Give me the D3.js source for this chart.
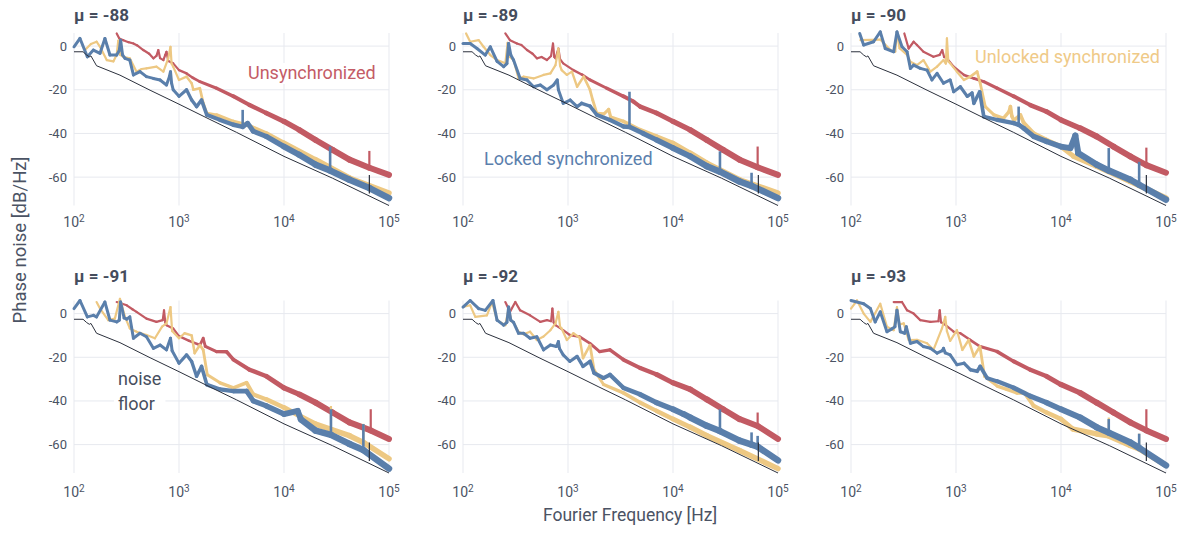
<!DOCTYPE html>
<html>
<head>
<meta charset="utf-8">
<script src="https://cdn.jsdelivr.net/npm/d3@7"></script>
<style>
  body { margin: 0; background: #fff; }
  svg text { font-family: Roboto, "Noto Sans", sans-serif; }
</style>
</head>
<body>
<svg id="chart" width="1187" height="537"></svg>
<script>
// values: [frequency Hz, phase noise dB/Hz]
// spikes: [frequency Hz, base dB, peak dB]

const muValues = [-88, -89, -90, -91, -92, -93];
const xTicks = [1e2, 1e3, 1e4, 1e5];
const yTicks = [0, -20, -40, -60];

const noiseFloor = [[100,-2.6],[122,-2.6],[132,-4.1],[140,-4.9],[145,-4.5],[164,-9],[274,-13.3],[530,-20.2],[1000,-26.6],[1970,-33.6],[3530,-39.5],[10000,-50.5],[29000,-60.5],[100000,-73]];
const floorSpikes = [[65000,-67.5,-59]];

// mu = -88
const unsync88 = [[255,5.8],[270,3.5],[295,2.7],[330,1.8],[368,1.2],[400,0.3],[457,-1.8],[520,-3.5],[570,-5.6],[610,-4.5],[635,-1.8],[660,-5.5],[710,-6.4],[740,-4],[760,-2.6],[790,-6.8],[880,-7.9],[1000,-11],[1180,-12.5],[1350,-14.5],[1580,-16.3],[2280,-19.3],[3300,-23],[4700,-27],[6800,-30.7],[10000,-34.5],[14000,-38.4],[20000,-43],[29000,-47.5],[42000,-52],[65000,-55.7],[100000,-59]];
const unlocked88 = [[127,-1.8],[145,1],[164,2],[177,-0.3],[205,-6.4],[237,-7],[255,-4],[264,2.5],[275,-4],[295,-4.9],[340,-5.6],[394,-11.7],[440,-10.5],[490,-10.2],[610,-9.4],[710,-11.7],[790,-5.6],[830,-0.3],[850,-8],[880,-9.4],[1000,-15.5],[1180,-14],[1320,-17],[1370,-20],[1580,-19.3],[1700,-26],[1840,-30.7],[2280,-31.5],[3300,-34.5],[4400,-36],[6800,-40],[10000,-44.4],[20000,-52],[42000,-60.4],[100000,-67.3]];
const locked88 = [[100,-0.3],[114,3.5],[134,-4.9],[153,-1.8],[177,-3.3],[197,3.5],[220,-4.1],[255,-4.1],[270,-2],[278,2.7],[290,-4],[306,-5.6],[340,-6.4],[368,-13.2],[425,-11.7],[490,-14],[570,-14.8],[660,-15.5],[760,-17.8],[810,-14],[830,-11.7],[850,-17],[880,-20],[1000,-23],[1180,-20],[1320,-24.7],[1470,-27.7],[1640,-24.7],[1840,-31.5],[2460,-33.8],[3300,-36],[4040,-37],[4500,-35.3],[5100,-39],[6800,-41.4],[10000,-46],[14000,-49.8],[20000,-54.3],[27500,-57],[42000,-61.2],[65000,-65],[100000,-69.6]];
const unsyncSpikes88 = [[65000,-55.7,-48]];
const unlockedSpikes88 = [];
const lockedSpikes88 = [[4040,-37,-29.2],[27500,-57,-46]];

// mu = -89
const unsync89 = [[253,5.8],[280,2.7],[326,1.2],[360,0.5],[407,-1.8],[460,-3.5],[505,-5.6],[560,-5],[630,-6.4],[690,-4.5],[720,1.2],[740,-5],[760,-5.6],[790,-3],[810,-1.1],[840,-6],[900,-7.9],[1125,-11],[1350,-13],[1620,-15.5],[2340,-19.3],[3370,-23],[4200,-25.4],[4870,-27.7],[7000,-30.7],[10000,-34.5],[14600,-38.4],[21000,-43],[30000,-47.5],[43000,-52],[64000,-55.5],[100000,-59]];
const unlocked89 = [[107,5.8],[117,2],[141,2.7],[157,-0.3],[182,-4.1],[211,-6.4],[253,-7.9],[266,1.5],[280,-5],[303,-6.4],[338,-14.8],[377,-14],[470,-14.8],[585,-13.2],[680,-12.5],[760,-8.7],[810,-1.1],[840,-9],[870,-11],[975,-13.2],[1090,-11.7],[1220,-18.6],[1410,-14],[1620,-20],[1720,-24.7],[1880,-30.7],[2200,-31],[2440,-29],[2550,-32.5],[3370,-34.5],[4870,-38.4],[7000,-41.4],[10000,-44.4],[14600,-49],[21000,-53.6],[43000,-61.2],[100000,-67.3]];
const locked89 = [[100,1.2],[117,1.2],[136,-1.1],[163,-4.1],[182,-0.3],[211,-7],[244,-9.4],[262,-8],[272,1.2],[285,-4],[303,-6.4],[350,-14.8],[407,-15.5],[470,-18.6],[545,-17.8],[630,-20],[730,-17.8],[790,-15.5],[810,-20],[900,-26.2],[1050,-24.7],[1220,-27.7],[1350,-26.2],[1620,-27.5],[1880,-31.5],[2500,-33.8],[3370,-36.8],[3850,-37],[5200,-40],[7000,-43],[10000,-46.7],[14600,-50.5],[21000,-55],[28000,-57.5],[43000,-62],[56000,-64],[100000,-69.6]];
const unsyncSpikes89 = [[64000,-55.5,-46]];
const unlockedSpikes89 = [];
const lockedSpikes89 = [[3850,-37,-20.9],[28000,-57.5,-48.2],[56000,-64,-58]];

// mu = -90
const unsync90 = [[322,5.8],[354,-1.1],[395,2],[425,0.5],[490,-2.6],[610,-4.9],[700,-4],[740,-1.8],[770,-5],[820,-5.6],[950,-9.4],[1190,-13.2],[1480,-14.8],[1840,-16.3],[2470,-19.3],[3550,-23],[5100,-27],[7300,-30],[10000,-33.8],[15200,-37.6],[21900,-41.4],[31600,-46],[45700,-50.5],[65000,-54.5],[100000,-58]];
const unlocked90 = [[123,2.7],[190,3],[240,-2],[264,-2.5],[274,6.5],[290,-1],[342,-4],[368,-7.2],[425,-8.7],[490,-6.4],[570,-11.7],[660,-9.4],[760,-6.4],[800,-8],[820,3.5],[845,-7],[880,-7.9],[1020,-11.7],[1190,-15.5],[1370,-14],[1590,-11.7],[1700,-17],[1900,-27.7],[2300,-31.5],[2840,-33],[3200,-30],[3300,-27.7],[3400,-32],[3550,-34],[4100,-31.5],[4400,-35],[5500,-40],[7300,-43],[10000,-46],[13200,-50.5],[21900,-55],[45700,-62],[100000,-69.6]];
const locked90 = [[121,5.8],[132,0.5],[164,2],[190,6.5],[212,-1.1],[255,-2.6],[274,6.5],[306,-0.3],[342,-2.6],[368,-10.2],[395,-8.7],[457,-10.2],[530,-11],[590,-15.5],[660,-12.5],[760,-17],[880,-15.5],[950,-20.9],[1100,-18.6],[1280,-23],[1420,-21.5],[1480,-26.2],[1680,-20.9],[1840,-32.3],[2470,-33.8],[3550,-35.3],[3950,-36],[4400,-37.6],[5500,-41.4],[7300,-43.7],[10000,-46],[12300,-46.7],[13700,-41],[14600,-49],[21900,-54.3],[28500,-57],[45700,-61.2],[55500,-63.5],[100000,-70.3]];
const unsyncSpikes90 = [[65000,-54.5,-46.5]];
const unlockedSpikes90 = [];
const lockedSpikes90 = [[3950,-36,-27.7],[28500,-57,-46.7],[55500,-63.5,-53]];

// mu = -91
const unsync91 = [[255,5.3],[318,3.8],[360,2],[394,0.8],[490,-2.3],[610,-3.8],[700,-3],[720,1.5],[740,-4],[760,-5.3],[880,-6.8],[1000,-10.3],[1250,-12.5],[1580,-14.4],[1700,-11.3],[1780,-15],[2280,-17.4],[2840,-17.5],[3300,-21.1],[4700,-25.7],[6800,-28.7],[10000,-34],[14000,-37],[20000,-40.8],[29000,-45.3],[42000,-49.8],[67000,-53.5],[100000,-57.4]];
const unlocked91 = [[164,5.3],[177,2.3],[212,-3],[245,-2.3],[274,6.8],[306,-1.5],[340,-6.8],[394,-8.3],[490,-9.8],[590,-11.3],[690,-6],[760,-4.5],[830,3],[860,-8],[1000,-11.3],[1130,-9],[1320,-10],[1410,-18.1],[1580,-14.4],[1700,-16.6],[1860,-28],[2460,-31.7],[3300,-34],[4400,-31.7],[5100,-37],[6800,-39.3],[10000,-43],[14000,-46.8],[20000,-50.6],[28000,-53],[42000,-55.9],[57000,-59],[100000,-66.5]];
const locked91 = [[100,2.3],[114,6],[134,-1.5],[153,-0.8],[164,-1.5],[197,5.3],[220,-3],[255,-3.8],[270,-3],[278,5.3],[300,-2],[318,-2.5],[340,-1.5],[368,-11.3],[425,-9],[490,-10.6],[570,-15.9],[660,-14.4],[760,-16.6],[830,-11.3],[860,-17],[1000,-22.7],[1180,-18.9],[1320,-21.9],[1470,-28.7],[1640,-24.2],[1840,-32.5],[2460,-34.7],[3300,-35.5],[4400,-35.5],[5100,-40],[6800,-42.3],[10000,-46],[13500,-44.6],[14500,-48.5],[20000,-53.6],[28000,-55.5],[42000,-59.7],[57000,-62.5],[100000,-71]];
const unsyncSpikes91 = [[67000,-53.5,-43.8]];
const unlockedSpikes91 = [[28000,-53,-42.3],[57000,-59,-50.5]];
const lockedSpikes91 = [[28000,-55.5,-43.8],[57000,-62.5,-50.6]];

// mu = -92
const unsync92 = [[253,5.3],[280,0.8],[315,5.3],[350,1.5],[435,-0.8],[545,-3.8],[630,-3],[690,-3.5],[710,2.3],[730,-4],[760,-5.3],[900,-7.6],[1040,-9.8],[1290,-10.6],[1620,-13.6],[2000,-17.4],[2510,-16.6],[3370,-21.1],[4870,-24.9],[7000,-27.9],[10000,-31.7],[14600,-34.7],[21000,-39.3],[30000,-43.8],[43000,-48.3],[64000,-51.5],[100000,-57.4]];
const unlocked92 = [[100,3],[117,3.8],[131,-1.5],[169,-0.8],[189,5.3],[211,-3],[253,-5.3],[272,2.3],[290,-3.5],[303,-4],[338,-8.3],[377,-9.5],[435,-8.3],[505,-12.1],[585,-10.5],[680,-7.6],[760,-4.5],[810,0.8],[840,-6],[870,-6.8],[975,-12.1],[1125,-9],[1290,-11],[1390,-20.4],[1620,-14.4],[1770,-25.7],[2180,-32.5],[3370,-36.3],[4870,-40.8],[7000,-44.6],[10000,-48.3],[14600,-52],[21000,-55.9],[43000,-62.7],[100000,-71]];
const locked92 = [[100,3],[117,6],[141,2.3],[163,1.5],[193,6],[211,-3],[244,-5.3],[262,-4],[272,3],[285,-3],[303,-4],[338,-9],[377,-9],[435,-11.3],[505,-10.6],[585,-16.6],[680,-14.4],[775,-15.1],[810,-12.8],[830,-16],[900,-18.9],[1040,-21.9],[1220,-19.6],[1390,-24.2],[1620,-21.9],[1770,-27.2],[2180,-29.5],[2510,-28],[3370,-34],[4870,-37],[7000,-40.8],[10000,-43.8],[12600,-46],[14600,-47.6],[21000,-51.4],[28000,-53.8],[43000,-58.2],[56000,-60],[64000,-61],[100000,-67.2]];
const unsyncSpikes92 = [[64000,-51.5,-45.3]];
const unlockedSpikes92 = [];
const lockedSpikes92 = [[28000,-53.8,-43.8],[56000,-60,-54.4],[64000,-61,-56]];

// mu = -93
const unsync93 = [[255,5.3],[306,5.3],[342,1.5],[395,0],[457,-3],[570,-3.8],[680,-3.5],[700,1.5],[720,-4],[760,-4.5],[950,-8.3],[1100,-9],[1370,-12.1],[1700,-15.1],[2470,-17.4],[3550,-21.9],[5100,-25.7],[7300,-28.7],[10000,-32.5],[15200,-36.3],[21900,-40.8],[31600,-45.3],[45700,-49.8],[65000,-53.5],[100000,-57.4]];
const unlocked93 = [[100,2.3],[114,6],[132,0],[153,-3.8],[190,4.5],[220,-6],[255,-7.6],[274,3],[290,-5],[318,-4.5],[354,-12.1],[425,-12],[530,-13.6],[610,-16.6],[735,-6.8],[790,-1.5],[820,-8],[880,-12.5],[1020,-7.6],[1150,-16.6],[1320,-12.1],[1480,-19.6],[1690,-15.1],[1870,-28.7],[2470,-33.2],[3050,-34.7],[3800,-36.3],[4500,-36.3],[5500,-42.3],[7300,-45.3],[10000,-48.3],[13000,-52.9],[21900,-55.1],[28500,-56],[45700,-60.4],[55500,-62],[100000,-69.5]];
const locked93 = [[100,6],[132,4.5],[153,2.3],[170,-3.8],[190,0.8],[220,-8.3],[245,-7],[262,-6],[274,1.5],[295,-8.3],[325,-9],[336,-6],[368,-13.6],[425,-12.8],[490,-15.1],[570,-15.9],[660,-18.1],[740,-17],[760,-15.9],[790,-18],[880,-18.9],[1020,-23.4],[1190,-22.7],[1370,-25.7],[1590,-26.4],[1700,-24.2],[1980,-29.5],[2470,-31],[3550,-34],[5100,-37.8],[7300,-40.8],[10000,-43.8],[15200,-47.6],[21900,-52.1],[28500,-54.5],[45700,-59],[55500,-61.5],[100000,-69.5]];
const unsyncSpikes93 = [[65000,-53.5,-43.8]];
const unlockedSpikes93 = [[28500,-56,-47.6],[55500,-62,-55]];
const lockedSpikes93 = [[28500,-54.5,-48.3],[55500,-61.5,-55]];

const panels = [
  {mu: muValues[0], unsync: unsync88, unlocked: unlocked88, locked: locked88, sU: unsyncSpikes88, sY: unlockedSpikes88, sL: lockedSpikes88},
  {mu: muValues[1], unsync: unsync89, unlocked: unlocked89, locked: locked89, sU: unsyncSpikes89, sY: unlockedSpikes89, sL: lockedSpikes89},
  {mu: muValues[2], unsync: unsync90, unlocked: unlocked90, locked: locked90, sU: unsyncSpikes90, sY: unlockedSpikes90, sL: lockedSpikes90},
  {mu: muValues[3], unsync: unsync91, unlocked: unlocked91, locked: locked91, sU: unsyncSpikes91, sY: unlockedSpikes91, sL: lockedSpikes91},
  {mu: muValues[4], unsync: unsync92, unlocked: unlocked92, locked: locked92, sU: unsyncSpikes92, sY: unlockedSpikes92, sL: lockedSpikes92},
  {mu: muValues[5], unsync: unsync93, unlocked: unlocked93, locked: locked93, sU: unsyncSpikes93, sY: unlockedSpikes93, sL: lockedSpikes93}
];

// layout
const colors = {unsync: "#c25a63", unlocked: "#edc883", locked: "#5a7fab", floor: "#2b303c"};
const textCol = "#4b5364";
const gridCol = "#e7e9ef";
const colX = [74, 463, 851];
const rowY = [33, 300.5];
const titleY = [21, 282];
const tickY = [227, 497];
const W = 315, H = 172.5;

const x = d3.scaleLog().domain([1e2, 1e5]).range([0, W]);
const y = d3.scaleLinear().domain([-73, 6]).range([H, 0]);

// noisy traces look like a thick band at high frequency -> widen stroke with frequency
function widthFn(base, max) {
  const s = d3.scaleLinear().domain([3, 4.3]).range([base, max]).clamp(true);
  return f => s(Math.log10(f));
}
const wUnsync = widthFn(2.2, 6);
const wUnlocked = widthFn(2.2, 5.5);
const wLocked = widthFn(3, 6.5);

const svg = d3.select("#chart");

function drawSeries(g, data, color, wFn) {
  g.append("g").selectAll("line").data(d3.pairs(data)).join("line")
    .attr("x1", d => x(d[0][0])).attr("y1", d => y(d[0][1]))
    .attr("x2", d => x(d[1][0])).attr("y2", d => y(d[1][1]))
    .attr("stroke", color)
    .attr("stroke-width", d => wFn(Math.sqrt(d[0][0] * d[1][0])))
    .attr("stroke-linecap", "round");
}

function drawSpikes(g, spikes, color, w) {
  g.append("g").selectAll("line").data(spikes).join("line")
    .attr("x1", d => x(d[0])).attr("x2", d => x(d[0]))
    .attr("y1", d => y(d[1])).attr("y2", d => y(d[2]))
    .attr("stroke", color).attr("stroke-width", w);
}

function addLabel(lines, px, py, color, lineH) {
  const g = svg.append("g");
  const t = g.append("text").attr("x", px).attr("y", py)
    .attr("fill", color).attr("font-size", 18);
  lines.forEach((s, i) => t.append("tspan").attr("x", px).attr("dy", i ? lineH : 0).text(s));
  const b = t.node().getBBox();
  g.insert("rect", "text").attr("x", b.x - 4).attr("y", b.y + 1)
    .attr("width", b.width + 8).attr("height", b.height).attr("fill", "#fff");
}

const panelGroups = [];

panels.forEach((p, i) => {
  const col = i % 3, row = Math.floor(i / 3);
  const g = svg.append("g").attr("transform", `translate(${colX[col]},${rowY[row]})`);
  panelGroups.push(g);

  // grid
  g.append("g").selectAll("line").data(xTicks).join("line")
    .attr("x1", d => x(d)).attr("x2", d => x(d)).attr("y1", 0).attr("y2", H)
    .attr("stroke", gridCol).attr("stroke-width", 1);
  g.append("g").selectAll("line").data(yTicks).join("line")
    .attr("x1", 0).attr("x2", W).attr("y1", d => y(d)).attr("y2", d => y(d))
    .attr("stroke", gridCol).attr("stroke-width", 1);

  // y tick labels
  g.append("g").selectAll("text").data(yTicks).join("text")
    .attr("x", -7).attr("y", d => y(d)).attr("dy", "0.35em")
    .attr("text-anchor", "end").attr("font-size", 13).attr("fill", textCol)
    .text(d => d);

  // x tick labels 10^n
  const xl = svg.append("g").selectAll("text").data(xTicks).join("text")
    .attr("x", d => colX[col] + x(d)).attr("y", tickY[row])
    .attr("text-anchor", "middle").attr("font-size", 14).attr("fill", textCol);
  xl.append("tspan").text("10");
  xl.append("tspan").attr("dy", -5).attr("font-size", 10).text(d => Math.round(Math.log10(d)));

  // title
  svg.append("text").attr("x", colX[col]).attr("y", titleY[row])
    .attr("font-size", 17).attr("font-weight", "bold").attr("fill", "#454d5d")
    .text(`μ = ${p.mu}`);
});

panels.forEach((p, i) => {
  const g = panelGroups[i].append("g");
  drawSeries(g, p.unsync, colors.unsync, wUnsync);
  drawSpikes(g, p.sU, colors.unsync, 2.2);
  drawSeries(g, p.unlocked, colors.unlocked, wUnlocked);
  drawSpikes(g, p.sY, colors.unlocked, 2.2);
  drawSeries(g, p.locked, colors.locked, wLocked);
  drawSpikes(g, p.sL, colors.locked, 2.6);
  g.append("path").datum(noiseFloor)
    .attr("d", d3.line().x(d => x(d[0])).y(d => y(d[1])))
    .attr("fill", "none").attr("stroke", colors.floor).attr("stroke-width", 1);
  drawSpikes(g, floorSpikes, colors.floor, 1.2);
});

// annotations (white box behind, drawn above grid and traces)
addLabel(["Unsynchronized"], 248, 79, "#c45c66", 0);
addLabel(["Locked synchronized"], 484, 165, "#5b80ad", 0);
addLabel(["Unlocked synchronized"], 975, 63, "#efca88", 0);
addLabel(["noise", "floor"], 118, 385, "#474e5e", 25);

// axis titles
svg.append("text").attr("transform", "translate(26,240) rotate(-90)")
  .attr("text-anchor", "middle").attr("font-size", 18.5).attr("fill", textCol)
  .text("Phase noise [dB/Hz]");
svg.append("text").attr("x", 630).attr("y", 521)
  .attr("text-anchor", "middle").attr("font-size", 17.5).attr("fill", textCol)
  .text("Fourier Frequency [Hz]");
</script>
</body>
</html>
